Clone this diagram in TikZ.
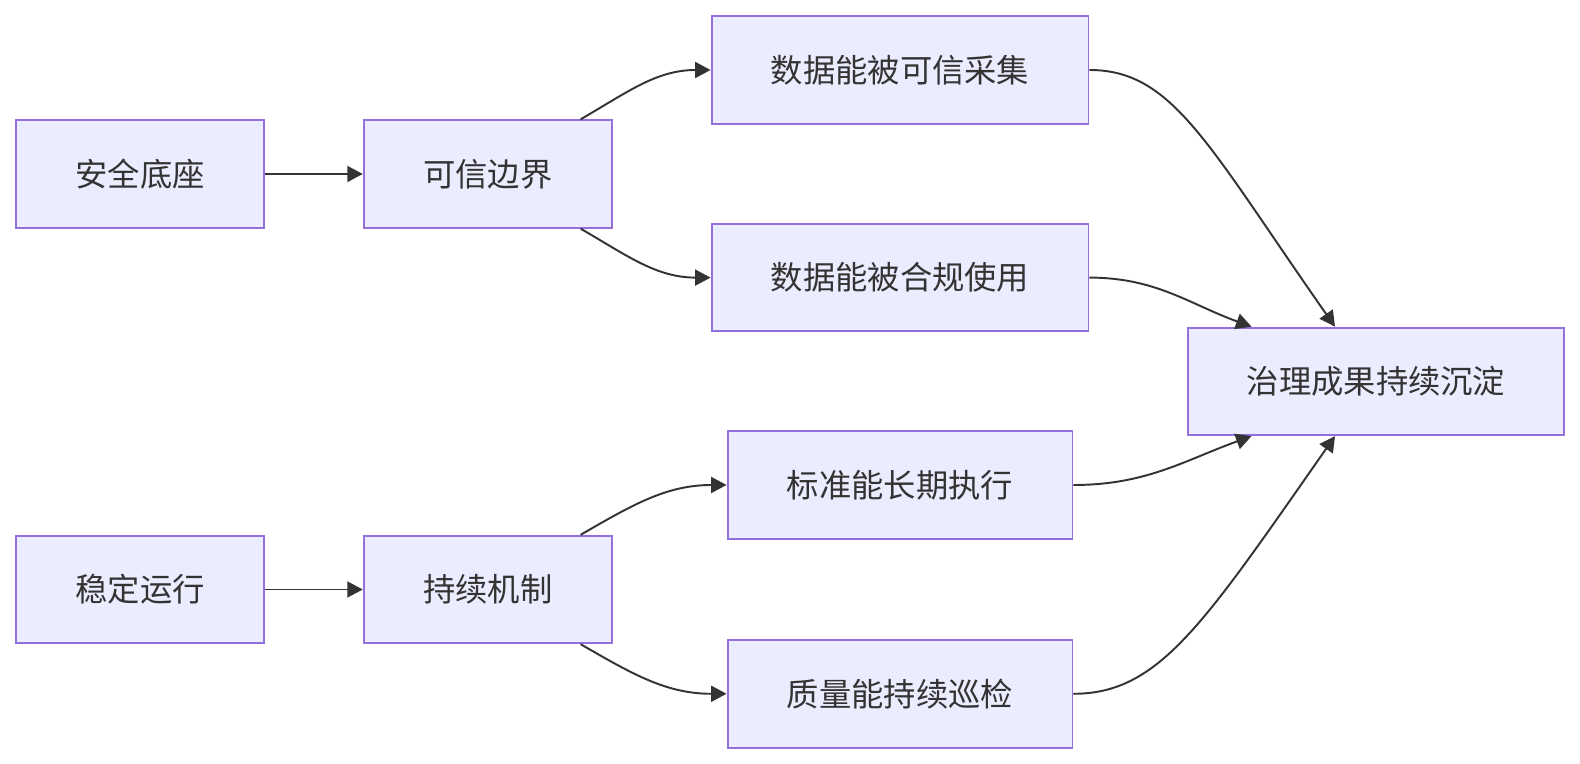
\documentclass[tikz,border=0pt]{standalone}
\usepackage{fontspec}
\newfontfamily\cjk{Noto Sans CJK SC}
\usetikzlibrary{arrows.meta}
\definecolor{mmfill}{HTML}{ECECFF}
\definecolor{mmborder}{HTML}{9370DB}
\definecolor{mmline}{HTML}{333333}
\definecolor{mmtext}{HTML}{333333}

\begin{document}
\begin{tikzpicture}[x=0.02cm, y=0.02cm,
  >={Triangle[length=0.31cm, width=0.32cm]},
  box/.style={draw=mmborder, fill=mmfill, line width=1.1pt, inner sep=0pt,
    minimum height=2.15cm, text=mmtext, font=\cjk\fontsize{18.4}{22}\selectfont},
  link/.style={->, draw=mmline, line width=1.1pt}]

% Background
\fill[white] (0,0) rectangle (1580,764);
\useasboundingbox (0,0) rectangle (1580,764);

% ================================================================
% Upper chain: security
% ================================================================
\node[box, minimum width=4.96cm] (anquan) at (140,590) {安全底座};
\node[box, minimum width=4.96cm] (bianjie) at (487.7,590) {可信边界};
\node[box, minimum width=7.54cm] (caiji) at (900,694) {数据能被可信采集};
\node[box, minimum width=7.54cm] (shiyong) at (900,486.4) {数据能被合规使用};

% ================================================================
% Lower chain: operation
% ================================================================
\node[box, minimum width=4.96cm] (yunxing) at (140,174.5) {稳定运行};
\node[box, minimum width=4.96cm] (jizhi) at (487.7,174.5) {持续机制};
\node[box, minimum width=6.9cm] (zhixing) at (900,279) {标准能长期执行};
\node[box, minimum width=6.9cm] (xunjian) at (900,70.2) {质量能持续巡检};

% Result
\node[box, minimum width=7.52cm] (chenDian) at (1376,382.6) {治理成果持续沉淀};

% Connectors
\draw[link] (anquan) -- (bianjie);
\draw[link] ([xshift=-0.64cm]bianjie.north east) to[out=30, in=180] (caiji.west);
\draw[link] ([xshift=-0.64cm]bianjie.south east) to[out=-30, in=180] (shiyong.west);
\draw[link] (caiji.east) to[out=0, in=125, out looseness=0.6, in looseness=1.6]
  ([xshift=-0.82cm]chenDian.north);
\draw[link] (shiyong.east) to[out=0, in=160] ([xshift=-2.49cm]chenDian.north);

\draw[link] (yunxing) -- (jizhi);
\draw[link] ([xshift=-0.64cm]jizhi.north east) to[out=30, in=180] (zhixing.west);
\draw[link] ([xshift=-0.64cm]jizhi.south east) to[out=-30, in=180] (xunjian.west);
\draw[link] (zhixing.east) to[out=0, in=-160] ([xshift=-2.49cm]chenDian.south);
\draw[link] (xunjian.east) to[out=0, in=-125, out looseness=0.6, in looseness=1.6]
  ([xshift=-0.82cm]chenDian.south);

\end{tikzpicture}
\end{document}
